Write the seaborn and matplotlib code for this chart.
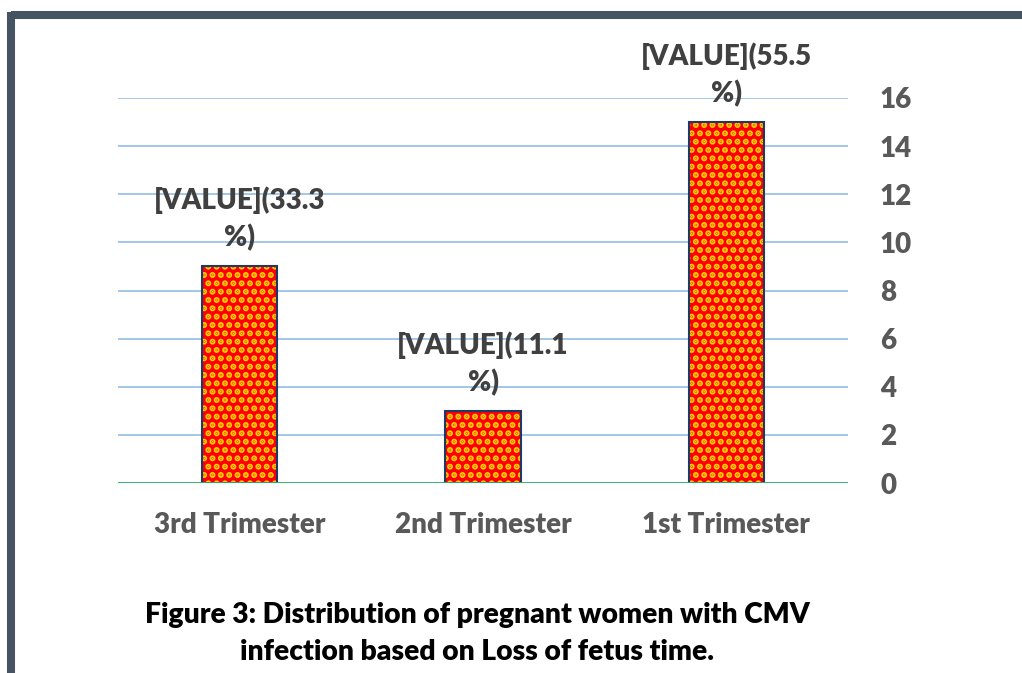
import matplotlib
matplotlib.use("Agg")
import matplotlib.pyplot as plt
import seaborn as sns
import pandas as pd
from matplotlib.lines import Line2D

# data
trimesters = ["3rd Trimester", "2nd Trimester", "1st Trimester"]
counts = [9, 3, 15]
percents = ["33.3", "11.1", "55.5"]
y_ticks = [0, 2, 4, 6, 8, 10, 12, 14, 16]

df = pd.DataFrame({"trimester": trimesters, "count": counts})

sns.set_theme(style="white")
plt.rcParams["font.family"] = ["Lato", "DejaVu Sans"]
plt.rcParams["hatch.linewidth"] = 3.0

WEIGHT = "heavy"

fig = plt.figure(figsize=(10.22, 6.73), dpi=100)
ax = fig.add_axes([0.1155, 0.2823, 0.7143, 0.5721])

# red fill with yellow dotted hatch
sns.barplot(data=df, x="trimester", y="count", ax=ax, width=0.31,
            color="#FF0000", saturation=1, edgecolor="#FFD000",
            linewidth=0, hatch="..", zorder=3)
# dark outline on top
sns.barplot(data=df, x="trimester", y="count", ax=ax, width=0.31,
            fill=False, edgecolor="#1F3864", linewidth=1.5, zorder=4)

ax.set_ylim(0, 16)
ax.set_xlim(-0.5, 2.5)
ax.set_yticks(y_ticks)
ax.yaxis.tick_right()
ax.grid(axis="y", color="#9DC3E6", linewidth=1.3, zorder=0)
ax.grid(axis="x", visible=False)
ax.axhline(0, color="#2DB36B", linewidth=2, zorder=5)
for s in ax.spines.values():
    s.set_visible(False)
ax.tick_params(axis="y", length=0, pad=23, labelsize=20, labelcolor="#595959")
ax.tick_params(axis="x", length=0, pad=21, labelsize=20, labelcolor="#595959")
for lbl in ax.get_xticklabels() + ax.get_yticklabels():
    lbl.set_fontweight(WEIGHT)
ax.set_xlabel("")
ax.set_ylabel("")

for i, (c, p) in enumerate(zip(counts, percents)):
    ax.annotate(f"[VALUE]({p}\n%)", (i, c), xytext=(0, 34),
                textcoords="offset points", ha="center", va="center",
                fontsize=20, fontweight=WEIGHT, color="#404040",
                linespacing=1.45)

fig.text(0.467, 0.059,
         "Figure 3: Distribution of pregnant women with CMV\ninfection based on Loss of fetus time.",
         ha="center", va="center", fontsize=20.3, fontweight=WEIGHT,
         color="black", linespacing=1.52)

# dark frame along top and left edge
fig.add_artist(Line2D([0.0107, 1.0], [0.9777, 0.9777], color="#465363",
                      linewidth=5.8, transform=fig.transFigure,
                      solid_capstyle="butt"))
fig.add_artist(Line2D([0.0107, 0.0107], [0.0, 0.9818], color="#465363",
                      linewidth=5.8, transform=fig.transFigure,
                      solid_capstyle="butt"))

fig.savefig("out.png", dpi=100)
